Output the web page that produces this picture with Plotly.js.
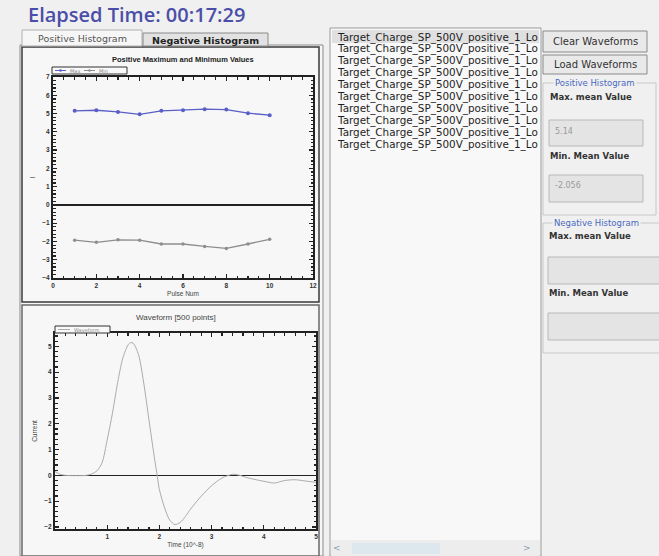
<!DOCTYPE html>
<html>
<head>
<meta charset="utf-8">
<script src="https://cdn.plot.ly/plotly-3.0.1.min.js"></script>
<style>
html,body{margin:0;padding:0;background:#f0f0f0;overflow:hidden;}
#chart{width:659px;height:556px;}
</style>
</head>
<body>
<div id="chart"></div>
<script>
// ---------- data ----------
const pulseNum = [1, 2, 3, 4, 5, 6, 7, 8, 9, 10];
const maxVals  = [5.15, 5.18, 5.09, 4.96, 5.15, 5.18, 5.24, 5.22, 5.02, 4.91];
const minVals  = [-1.93, -2.05, -1.91, -1.93, -2.14, -2.14, -2.27, -2.38, -2.14, -1.88];

const waveTime = [0, 0.1, 0.2, 0.4, 0.6, 0.7, 0.8, 0.9, 1.0, 1.1, 1.2, 1.3, 1.4, 1.45, 1.5, 1.6, 1.7, 1.8, 1.9, 1.95,
                  2.0, 2.1, 2.2, 2.3, 2.4, 2.5, 2.6, 2.8, 3.0, 3.2, 3.4, 3.5, 3.7, 3.9, 4.1, 4.2, 4.4, 4.6, 4.8, 5.0];
const waveCurrent = [0.15, 0.04, 0.0, -0.01, 0.0, 0.05, 0.17, 0.48, 1.38, 2.4, 3.6, 4.55, 5.06, 5.15, 5.12, 4.68, 3.58, 2.15, 0.74, 0.1,
                     -0.55, -1.26, -1.74, -1.91, -1.82, -1.59, -1.3, -0.81, -0.4, -0.1, 0.04, 0.02, -0.1, -0.19, -0.27, -0.3, -0.2, -0.17, -0.22, -0.27];

const seriesNames = ['Max', 'Min'];
const seriesColors = ['#5a5ec6', '#8e8e8e'];
const waveName = 'Waveform';
const listItems = [
  'Target_Charge_SP_500V_positive_1_Lo',
  'Target_Charge_SP_500V_positive_1_Lo',
  'Target_Charge_SP_500V_positive_1_Lo',
  'Target_Charge_SP_500V_positive_1_Lo',
  'Target_Charge_SP_500V_positive_1_Lo',
  'Target_Charge_SP_500V_positive_1_Lo',
  'Target_Charge_SP_500V_positive_1_Lo',
  'Target_Charge_SP_500V_positive_1_Lo',
  'Target_Charge_SP_500V_positive_1_Lo',
  'Target_Charge_SP_500V_positive_1_Lo'
];
const elapsed = 'Elapsed Time: 00:17:29';
const posMaxMean = '5.14';
const posMinMean = '-2.056';

// ---------- helpers (pixel -> paper) ----------
const W = 659, H = 556;
const X = p => p / W;
const Y = p => 1 - p / H;
const GUI = 'DejaVu Sans';
const shapes = [];
const ann = [];
function rect(x0, y0, x1, y1, fill, line, lw, layer) {
  shapes.push({type: 'rect', xref: 'paper', yref: 'paper', layer: layer || 'below',
    x0: X(x0), x1: X(x1), y0: Y(y1), y1: Y(y0),
    fillcolor: fill, line: {color: line || 'rgba(0,0,0,0)', width: lw === undefined ? 1 : lw}});
}
function seg(x0, y0, x1, y1, color, w) {
  shapes.push({type: 'line', xref: 'paper', yref: 'paper', layer: 'above',
    x0: X(x0), x1: X(x1), y0: Y(y0), y1: Y(y1), line: {color: color, width: w}});
}
function dot(x, y, r, color) {
  shapes.push({type: 'circle', xref: 'paper', yref: 'paper', layer: 'above',
    x0: X(x - r), x1: X(x + r), y0: Y(y + r), y1: Y(y - r), fillcolor: color, line: {color: color, width: 0}});
}
function txt(x, y, text, size, color, o) {
  o = o || {};
  ann.push(Object.assign({xref: 'paper', yref: 'paper', x: X(x), y: Y(y), text: text, showarrow: false,
    xanchor: 'left', yanchor: 'middle',
    font: {family: o.family || GUI, size: size, color: color, weight: o.weight || 'normal'}}, o.extra || {}));
}

// ---------- GUI chrome ----------
rect(20, 45, 323, 556, '#f6f6f6', '#8a8a8a', 1);
rect(22, 47, 319, 302, '#f7f7f7', '#3a3a3a', 1.5);
rect(22, 305, 319, 556, '#f7f7f7', '#6a6a6a', 1.5);
rect(22, 30, 142, 46, '#f6f6f6', '#b0b0b0', 1);
rect(143, 33, 268, 46, '#e2e2e2', '#8a8a8a', 1);
txt(82, 38.5, 'Positive Histogram', 9.5, '#555', {extra: {xanchor: 'center'}});
txt(205.5, 40, 'Negative Histogram', 9.5, '#222', {weight: 'bold', extra: {xanchor: 'center'}});
rect(330, 28, 541, 556, '#f8f8f8', '#9a9a9a', 1);
rect(332, 30, 539, 43, '#e0e0e0', null, 0);
listItems.forEach((s, i) => txt(335, 37 + i * 11.9, s, 10.4, '#1e1e1e'));
rect(331, 540, 540, 556, '#ededed', null, 0);
rect(352, 543, 440, 554, '#dde7ee', null, 0);
txt(337, 548, '<', 9, '#8aa0b0', {extra: {xanchor: 'center'}});
txt(527, 548, '>', 9, '#8aa0b0', {extra: {xanchor: 'center'}});
rect(543, 31, 647, 52, '#e9e9e9', '#8a8a8a', 1);
rect(543, 55, 647, 74, '#e9e9e9', '#8a8a8a', 1);
txt(595, 42, 'Clear Waveforms', 10, '#333', {extra: {xanchor: 'center'}});
txt(595, 65, 'Load Waveforms', 10, '#333', {extra: {xanchor: 'center'}});
rect(543, 83, 656, 215, 'rgba(0,0,0,0)', '#c8c8c8', 1);
txt(553, 83, 'Positive Histogram', 8.5, '#4a68bf', {extra: {bgcolor: '#f0f0f0'}});
txt(548, 97, 'Max. mean Value', 8.5, '#333', {weight: 'bold'});
rect(549, 120, 643, 146, '#e4e4e4', '#b8b8b8', 1);
txt(553, 131, posMaxMean, 8, '#9a9a9a');
txt(548, 156, 'Min. Mean Value', 8.5, '#333', {weight: 'bold'});
rect(549, 175, 643, 202, '#e4e4e4', '#b8b8b8', 1);
txt(553, 186, posMinMean, 8, '#9a9a9a');
rect(543, 223, 662, 353, 'rgba(0,0,0,0)', '#c8c8c8', 1);
txt(552, 223, 'Negative Histogram', 8.5, '#4a68bf', {extra: {bgcolor: '#f0f0f0'}});
txt(547, 236, 'Max. mean Value', 8.5, '#333', {weight: 'bold'});
rect(548, 257, 662, 284, '#e4e4e4', '#b8b8b8', 1);
txt(547, 293, 'Min. Mean Value', 8.5, '#333', {weight: 'bold'});
rect(548, 313, 662, 340, '#e4e4e4', '#b8b8b8', 1);

// chart titles
txt(183, 59, 'Positive Maximum and Minimum Values', 7.5, '#222', {family: 'Liberation Sans', weight: 'bold', extra: {xanchor: 'center'}});
txt(176, 317, 'Waveform [500 points]', 8, '#444', {family: 'Liberation Sans', extra: {xanchor: 'center'}});

// compact legends (drawn small, like the original application)
rect(52, 67, 127, 74, '#f9f9f9', '#333', 1, 'above');
seg(55, 70.5, 66, 70.5, seriesColors[0], 1);
dot(60.5, 70.5, 1.3, seriesColors[0]);
txt(68, 70.5, seriesNames[0], 5, '#888');
seg(84, 70.5, 95, 70.5, seriesColors[1], 1);
dot(89.5, 70.5, 1.3, seriesColors[1]);
txt(97, 70.5, seriesNames[1], 5, '#888');
rect(55, 326, 110, 333, '#f9f9f9', '#333', 1, 'above');
seg(58, 329.5, 70, 329.5, '#ababab', 1);
txt(72, 329.5, waveName, 5, '#888');

// ---------- traces ----------
const traces = [
  {x: pulseNum, y: maxVals, name: seriesNames[0], type: 'scatter', mode: 'lines+markers',
   line: {color: seriesColors[0], width: 1.3}, marker: {color: seriesColors[0], size: 4, symbol: 'circle'},
   xaxis: 'x', yaxis: 'y'},
  {x: pulseNum, y: minVals, name: seriesNames[1], type: 'scatter', mode: 'lines+markers',
   line: {color: seriesColors[1], width: 1.3}, marker: {color: seriesColors[1], size: 3.5, symbol: 'circle'},
   xaxis: 'x', yaxis: 'y'},
  {x: waveTime, y: waveCurrent, name: waveName, type: 'scatter', mode: 'lines',
   line: {color: '#ababab', width: 1, shape: 'spline', smoothing: 0.8},
   xaxis: 'x2', yaxis: 'y2'}
];

const tickFont = {family: 'Liberation Sans', size: 6.5, color: '#333', weight: 'bold'};
const titleFont = {family: 'Liberation Sans', size: 6.5, color: '#444'};
const axBase = {showline: true, linecolor: '#222', linewidth: 2, mirror: 'ticks', ticks: 'inside',
  ticklen: 4, tickwidth: 1.2, tickcolor: '#222', showgrid: false, tickfont: tickFont, fixedrange: true};

const layout = {
  width: W, height: H, autosize: false,
  margin: {l: 0, r: 0, t: 0, b: 0},
  paper_bgcolor: '#f0f0f0', plot_bgcolor: '#f9f9f9',
  title: {text: elapsed, x: X(28), xanchor: 'left', y: Y(15), yanchor: 'middle',
    font: {family: 'Open Sans', size: 20, color: '#4b4ea8', weight: 600}},
  showlegend: false,
  xaxis: Object.assign({}, axBase, {domain: [X(53), X(313)], anchor: 'y', range: [0, 12], dtick: 2, tick0: 0,
    minor: {ticks: 'inside', dtick: 0.5, ticklen: 2.5, tickcolor: '#222'},
    title: {text: 'Pulse Num', font: titleFont, standoff: 4}}),
  yaxis: Object.assign({}, axBase, {domain: [Y(278), Y(77)], anchor: 'x', range: [-4, 7], dtick: 1, tick0: 0,
    minor: {ticks: 'inside', dtick: 0.2, ticklen: 2.5, tickcolor: '#222'},
    zeroline: true, zerolinecolor: '#222', zerolinewidth: 1.5,
    title: {text: 'I', font: titleFont, standoff: 6}}),
  xaxis2: Object.assign({}, axBase, {domain: [X(55), X(316)], anchor: 'y2', range: [0, 5],
    tickmode: 'array', tickvals: [1, 2, 3, 4, 5],
    minor: {ticks: 'inside', tickmode: 'linear', tick0: 0, dtick: 0.2, ticklen: 2.5, tickcolor: '#222'},
    title: {text: 'Time (10^-8)', font: titleFont, standoff: 4}}),
  yaxis2: Object.assign({}, axBase, {domain: [Y(529), Y(333)], anchor: 'x2', range: [-2.08, 5.52], dtick: 1, tick0: 0,
    minor: {ticks: 'inside', dtick: 0.2, ticklen: 2.5, tickcolor: '#222'},
    zeroline: true, zerolinecolor: '#222', zerolinewidth: 1.5,
    title: {text: 'Current', font: titleFont, standoff: 6}}),
  shapes: shapes,
  annotations: ann
};

Plotly.newPlot('chart', traces, layout, {staticPlot: true, displayModeBar: false});
</script>
</body>
</html>
